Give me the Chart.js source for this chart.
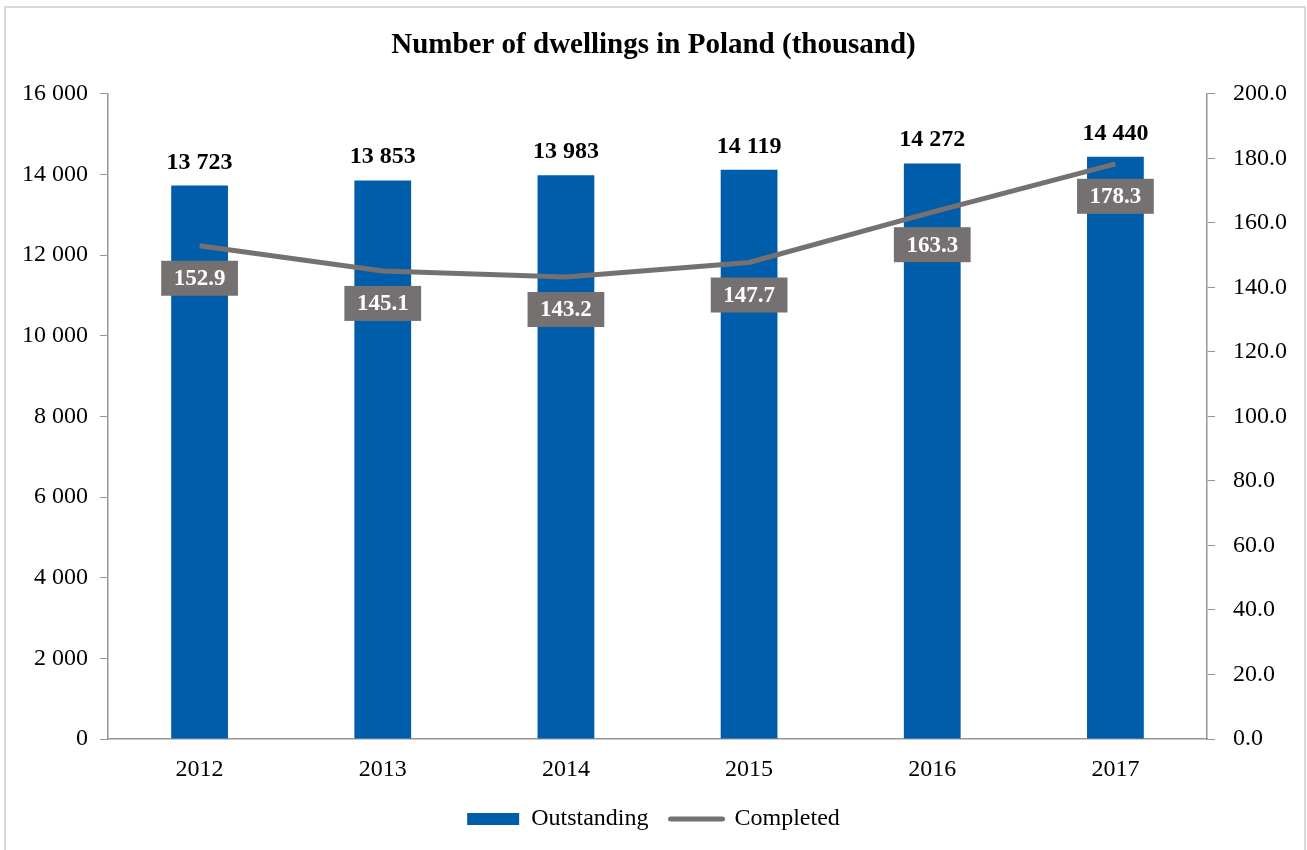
<!DOCTYPE html>
<html>
<head>
<meta charset="utf-8">
<script src="https://cdn.jsdelivr.net/npm/chart.js@4/dist/chart.umd.min.js"></script>
<style>
    body { margin: 0; background: #fff; }
    #wrap { position: absolute; left: 0; top: 0; width: 1307px; height: 850px; }
    #frame { position: absolute; left: 4px; top: 6px; width: 1298px; height: 900px; border: 2px solid #d9d9d9; pointer-events: none; }
</style>
</head>
<body>
<div id="wrap"><canvas id="graficoViviendas" width="1307" height="850"></canvas></div>
<div id="frame"></div>
<script>
const years = ['2012', '2013', '2014', '2015', '2016', '2017'];
const outstanding = [13723, 13853, 13983, 14119, 14272, 14440];
const completed = [152.9, 145.1, 143.2, 147.7, 163.3, 178.3];

const serif = '"Liberation Serif", "Times New Roman", serif';
const azul = 'rgb(0, 93, 170)';
const gris = 'rgb(118, 113, 113)';
const ejeColor = 'rgb(150, 150, 150)';

const conEspacio = (v) => String(v).replace(/\B(?=(\d{3})+(?!\d))/g, ' ');

// etiquetas de datos dibujadas a mano (no hay plugin datalabels)
const etiquetas = {
    id: 'etiquetas',
    afterDatasetsDraw(chart) {
        const ctx = chart.ctx;
        ctx.save();
        ctx.textAlign = 'center';

        ctx.font = 'bold 24px ' + serif;
        chart.getDatasetMeta(0).data.forEach((bar, i) => {
            ctx.fillStyle = '#000';
            ctx.textBaseline = 'alphabetic';
            ctx.fillText(conEspacio(outstanding[i]), bar.x, bar.y - 17);
        });

        ctx.font = 'bold 23px ' + serif;
        chart.getDatasetMeta(1).data.forEach((pt, i) => {
            const txt = completed[i].toFixed(1);
            const w = ctx.measureText(txt).width + 25;
            const h = 35;
            const top = pt.y + 15;
            ctx.fillStyle = gris;
            ctx.fillRect(pt.x - w / 2, top, w, h);
            ctx.fillStyle = '#fff';
            ctx.textBaseline = 'middle';
            ctx.fillText(txt, pt.x, top + h / 2 + 1);
        });
        ctx.restore();
    }
};

const data = {
    labels: years,
    datasets: [
        {
            type: 'bar',
            label: 'Outstanding',
            data: outstanding,
            backgroundColor: azul,
            borderWidth: 0,
            yAxisID: 'y',
            categoryPercentage: 1,
            barPercentage: 0.31,
            order: 2
        },
        {
            type: 'line',
            label: 'Completed',
            data: completed,
            borderColor: gris,
            backgroundColor: gris,
            borderWidth: 5,
            pointRadius: 0,
            tension: 0,
            yAxisID: 'y1',
            order: 1
        }
    ]
};

const config = {
    data: data,
    options: {
        responsive: false,
        animation: false,
        layout: { padding: { top: 0, bottom: 9, left: 0, right: 0 } },
        plugins: {
            title: {
                display: true,
                text: 'Number of dwellings in Poland (thousand)',
                color: '#000',
                font: { family: serif, size: 29, weight: 'bold' },
                padding: { top: 28, bottom: 31 }
            },
            legend: {
                position: 'bottom',
                labels: {
                    color: '#000',
                    font: { family: serif, size: 24 },
                    usePointStyle: true,
                    pointStyleWidth: 52,
                    boxHeight: 12,
                    padding: 22,
                    generateLabels(chart) {
                        const items = Chart.defaults.plugins.legend.labels.generateLabels(chart);
                        items.sort((a, b) => a.datasetIndex - b.datasetIndex);
                        items[0].pointStyle = 'rect';
                        items[0].lineWidth = 0;
                        items[0].fillStyle = azul;
                        items[1].pointStyle = 'line';
                        items[1].lineWidth = 5;
                        items[1].strokeStyle = gris;
                        items[1].lineCap = 'round';
                        return items;
                    }
                }
            },
            tooltip: { enabled: false }
        },
        scales: {
            x: {
                afterFit(scale) { scale.height = 46; },
                grid: { display: false, drawTicks: false },
                border: { display: true, color: ejeColor, width: 1.5 },
                ticks: { color: '#000', font: { family: serif, size: 24 }, padding: 16 }
            },
            y: {
                position: 'left',
                min: 0,
                max: 16000,
                afterFit(scale) { scale.width = 108; },
                ticks: {
                    stepSize: 2000,
                    color: '#000',
                    font: { family: serif, size: 24 },
                    padding: 12,
                    callback: (v) => conEspacio(v)
                },
                grid: { drawOnChartArea: false, drawTicks: true, tickLength: 8, color: ejeColor },
                border: { display: true, color: ejeColor, width: 1.5 }
            },
            y1: {
                position: 'right',
                min: 0,
                max: 200,
                afterFit(scale) { scale.width = 100; },
                ticks: {
                    stepSize: 20,
                    color: '#000',
                    font: { family: serif, size: 24 },
                    padding: 18,
                    callback: (v) => Number(v).toFixed(1)
                },
                grid: { drawOnChartArea: false, drawTicks: true, tickLength: 8, color: ejeColor },
                border: { display: true, color: ejeColor, width: 1.5 }
            }
        }
    },
    plugins: [etiquetas]
};

const myChart = new Chart(
    document.getElementById('graficoViviendas'),
    config
);
</script>
</body>
</html>
